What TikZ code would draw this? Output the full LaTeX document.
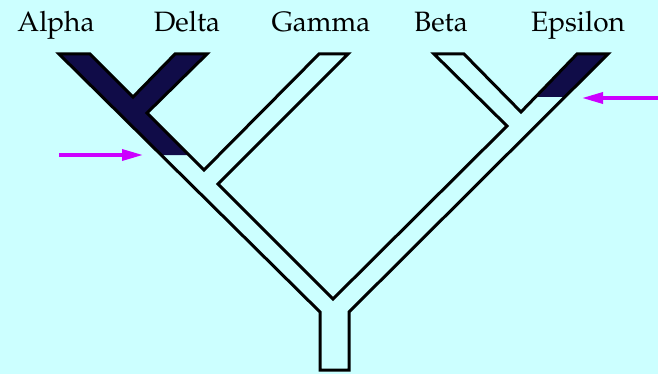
\documentclass[tikz,border=0pt]{standalone}
\usepackage[T1]{fontenc}
\usepackage{mathpazo}
\usepackage{tikz}
\usetikzlibrary{arrows.meta}

\definecolor{sky}{RGB}{204,255,255}
\definecolor{night}{RGB}{16,12,72}
\definecolor{violet}{RGB}{204,0,255}

\begin{document}
\begin{tikzpicture}[x=0.5pt,y=-0.5pt,
  taxon/.style={anchor=base,font=\fontsize{14}{16}\selectfont},
  marker/.style={violet,line width=1.7pt,-{Triangle[length=10.5pt,width=5.5pt]}}]
\fill[sky] (0,0) rectangle (658,374);
\useasboundingbox (0,0) rectangle (658,374);
% shaded clades
\fill[night] (59,54) -- (90,54) -- (133,97) -- (175,54) -- (207,54) -- (147,113)
  -- (189,155) -- (161,155) -- cycle;
\fill[night] (577,54) -- (608,54) -- (565,97) -- (535,97) -- cycle;
% tree outline
\draw[line width=1.5pt] (320,370) -- (320,312) -- (59,54) -- (90,54) -- (133,97)
  -- (175,54) -- (207,54) -- (147,113) -- (204,170) -- (319,54) -- (348,54)
  -- (218,184) -- (333,299) -- (507,126) -- (434,54) -- (464,54) -- (521,112)
  -- (577,54) -- (608,54) -- (349,312) -- (349,370) -- cycle;
\node[taxon] (alpha) at (56,32) {Alpha};
\node[taxon] (delta) at (187,32) {Delta};
\node[taxon] (gamma) at (321,32) {Gamma};
\node[taxon] (beta) at (441,32) {Beta};
\node[taxon] (epsilon) at (578,32) {Epsilon};
\coordinate (lefttail) at (59,155);
\coordinate (lefttip) at (143,155);
\coordinate (righttail) at (658,98);
\coordinate (righttip) at (582,98);
\draw[marker] (lefttail) -- (lefttip);
\draw[marker] (righttail) -- (righttip);
\end{tikzpicture}
\end{document}
